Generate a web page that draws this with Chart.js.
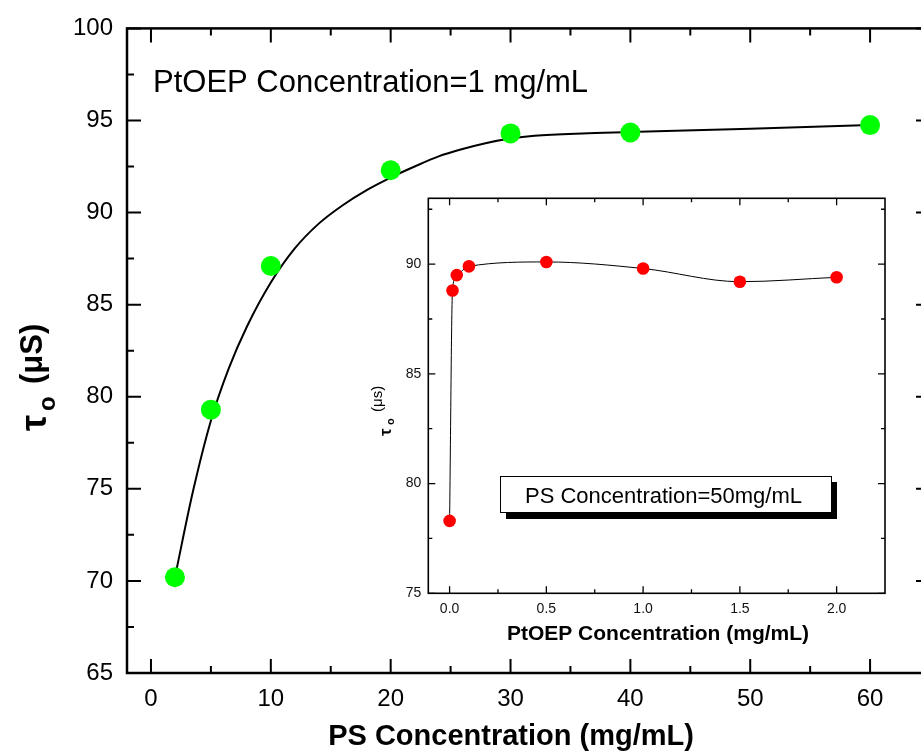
<!DOCTYPE html>
<html>
<head>
<meta charset="utf-8">
<title>Lifetime vs concentration</title>
<script src="https://cdn.jsdelivr.net/npm/chart.js@4"></script>
<style>
  html, body { margin: 0; padding: 0; background: #fff; overflow: hidden; }
  #wrap { position: relative; width: 921px; height: 752px; overflow: hidden; }
  #main { position: absolute; left: 0; top: 0; }
  #inset { position: absolute; left: 360px; top: 180px; }
</style>
</head>
<body>
<div id="wrap">
  <canvas id="main" width="940" height="752"></canvas>
  <canvas id="inset" width="540" height="480"></canvas>
</div>
<script>
// main plot: lifetime vs PS concentration (PtOEP fixed at 1 mg/mL)
const psConc = [2, 5, 10, 20, 30, 40, 60];
const tauPS = [70.2, 79.3, 87.1, 92.3, 94.3, 94.35, 94.75];

// fitted curve, sampled
const fitX = [2, 3.5, 5, 6.5, 8, 10, 12, 14, 16, 18, 20, 22, 24, 26, 28, 30, 32, 36, 40, 50, 60];
const fitY = [70.2, 74.85, 78.7, 81.55, 83.8, 86.2, 88.05, 89.4, 90.4, 91.22, 91.9, 92.5, 93.05, 93.45, 93.78, 94.02, 94.17, 94.3, 94.37, 94.55, 94.75];

const mainXTicks = [0, 10, 20, 30, 40, 50, 60];
const mainXMinor = [5, 15, 25, 35, 45, 55];
const mainYTicks = [65, 70, 75, 80, 85, 90, 95, 100];
const mainYMinor = [67.5, 72.5, 77.5, 82.5, 87.5, 92.5, 97.5];

// inset: lifetime vs PtOEP concentration (PS fixed at 50 mg/mL)
const ptoepConc = [0, 0.015, 0.037, 0.1, 0.5, 1.0, 1.5, 2.0];
const tauPt = [78.3, 88.8, 89.5, 89.9, 90.1, 89.8, 89.2, 89.4];

const insetXTicks = [0, 0.5, 1.0, 1.5, 2.0];
const insetXMinor = [0.25, 0.75, 1.25, 1.75];
const insetYTicks = [75, 80, 85, 90];
const insetYMinor = [77.5, 82.5, 87.5, 92.5];

const FONT = '"Liberation Sans", Arial, sans-serif';
Chart.defaults.font.family = FONT;
Chart.defaults.color = '#000';

const toPts = (xs, ys) => xs.map((x, i) => ({ x: x, y: ys[i] }));
const setTicks = vals => scale => { scale.ticks = vals.map(v => ({ value: v })); };

// box around the plot with ticks pointing inward on all four sides
const framePlugin = {
  id: 'frame',
  afterDraw(chart, args, o) {
    const { ctx, chartArea: a, scales: { x, y } } = chart;
    ctx.save();
    ctx.strokeStyle = '#000';
    ctx.lineWidth = o.tickWidth;
    ctx.beginPath();
    const xt = (vals, len) => vals.forEach(v => {
      const px = x.getPixelForValue(v);
      ctx.moveTo(px, a.bottom); ctx.lineTo(px, a.bottom - len);
      ctx.moveTo(px, a.top); ctx.lineTo(px, a.top + len);
    });
    const yt = (vals, len) => vals.forEach(v => {
      const py = y.getPixelForValue(v);
      ctx.moveTo(a.left, py); ctx.lineTo(a.left + len, py);
      ctx.moveTo(a.right, py); ctx.lineTo(a.right - len, py);
    });
    xt(o.xMajor, o.major); xt(o.xMinor, o.minor);
    yt(o.yMajor, o.major); yt(o.yMinor, o.minor);
    ctx.stroke();
    ctx.lineWidth = o.lineWidth;
    ctx.strokeRect(a.left, a.top, a.right - a.left, a.bottom - a.top);
    ctx.restore();
  }
};

// rotated "τo (unit)" with the o as subscript
function drawTauTitle(ctx, startY, p) {
  ctx.save();
  ctx.translate(0, startY);
  ctx.rotate(-Math.PI / 2);
  ctx.fillStyle = '#000';
  ctx.textAlign = 'left';
  ctx.textBaseline = 'alphabetic';
  ctx.font = p.tauFont;
  ctx.fillText('τ', 0, p.tauBase);
  ctx.font = p.subFont;
  ctx.fillText('o', p.subX, p.subBase);
  ctx.font = p.unitFont;
  ctx.fillText(p.unit, p.unitX, p.unitBase);
  ctx.restore();
}

const mainText = {
  id: 'mainText',
  afterDraw(chart) {
    const ctx = chart.ctx;
    ctx.save();
    ctx.fillStyle = '#000';
    ctx.textBaseline = 'alphabetic';
    ctx.textAlign = 'left';
    ctx.font = '31px ' + FONT;
    ctx.fillText('PtOEP Concentration=1 mg/mL', 153, 92);
    ctx.textAlign = 'center';
    ctx.textBaseline = 'middle';
    ctx.font = 'bold 29px ' + FONT;
    ctx.fillText('PS Concentration (mg/mL)', 511, 737);
    ctx.restore();
    drawTauTitle(ctx, 431, {
      tauFont: 'bold 36px ' + FONT, tauBase: 46,
      subFont: 'bold 24px ' + FONT, subX: 20, subBase: 55,
      unitFont: 'bold 31px ' + FONT, unitX: 47, unitBase: 42,
      unit: '(μS)'
    });
  }
};

const insetText = {
  id: 'insetText',
  afterDraw(chart) {
    const ctx = chart.ctx;
    const ox = 360, oy = 180; // canvas offset on the page
    ctx.save();
    // label box with drop shadow
    ctx.fillStyle = '#000';
    ctx.fillRect(506 - ox, 482 - oy, 331, 37);
    ctx.fillStyle = '#fff';
    ctx.fillRect(500 - ox, 476 - oy, 331, 36);
    ctx.strokeStyle = '#000';
    ctx.lineWidth = 1;
    ctx.strokeRect(500.5 - ox, 476.5 - oy, 331, 36);
    ctx.fillStyle = '#000';
    ctx.textAlign = 'left';
    ctx.textBaseline = 'alphabetic';
    ctx.font = '22px ' + FONT;
    ctx.fillText('PS Concentration=50mg/mL', 525 - ox, 503 - oy);
    ctx.textAlign = 'center';
    ctx.textBaseline = 'middle';
    ctx.font = 'bold 21px ' + FONT;
    ctx.fillText('PtOEP Concentration (mg/mL)', 658 - ox, 634 - oy);
    ctx.restore();
    drawTauTitle(ctx, 436 - oy, {
      tauFont: 'bold 17px ' + FONT, tauBase: 391 - ox,
      subFont: 'bold 11px ' + FONT, subX: 11, subBase: 394 - ox,
      unitFont: '15px ' + FONT, unitX: 24, unitBase: 382 - ox,
      unit: '(μs)'
    });
  }
};

new Chart(document.getElementById('main'), {
  type: 'scatter',
  data: {
    datasets: [
      {
        data: toPts(psConc, tauPS),
        backgroundColor: '#00ff00',
        borderWidth: 0,
        pointRadius: 10,
        order: 0
      },
      {
        data: toPts(fitX, fitY),
        showLine: true,
        cubicInterpolationMode: 'monotone',
        borderColor: '#000',
        borderWidth: 2,
        pointRadius: 0,
        order: 1
      }
    ]
  },
  options: {
    responsive: false,
    animation: false,
    layout: { padding: { top: 25, right: 8, bottom: 0, left: 0 } },
    plugins: {
      legend: { display: false },
      tooltip: { enabled: false },
      frame: {
        lineWidth: 2.5, tickWidth: 2, major: 14, minor: 7,
        xMajor: mainXTicks, xMinor: mainXMinor,
        yMajor: mainYTicks, yMinor: mainYMinor
      }
    },
    scales: {
      x: {
        type: 'linear', min: -2, max: 65,
        grid: { display: false, drawTicks: false },
        border: { display: false },
        afterBuildTicks: setTicks(mainXTicks),
        afterFit: s => { s.height = 79; },
        ticks: { font: { size: 24 }, padding: 12 }
      },
      y: {
        type: 'linear', min: 65, max: 100,
        grid: { display: false, drawTicks: false },
        border: { display: false },
        afterBuildTicks: setTicks(mainYTicks),
        afterFit: s => { s.width = 127; },
        ticks: { font: { size: 24 }, padding: 14 }
      }
    }
  },
  plugins: [framePlugin, mainText]
});

new Chart(document.getElementById('inset'), {
  type: 'scatter',
  data: {
    datasets: [
      {
        data: toPts(ptoepConc, tauPt),
        backgroundColor: '#ff0000',
        borderWidth: 0,
        pointRadius: 6.3,
        order: 0
      },
      {
        data: toPts(ptoepConc, tauPt),
        showLine: true,
        cubicInterpolationMode: 'monotone',
        borderColor: '#000',
        borderWidth: 1,
        pointRadius: 0,
        order: 1
      }
    ]
  },
  options: {
    responsive: false,
    animation: false,
    layout: { padding: { top: 18.3, right: 15, bottom: 0, left: 0 } },
    plugins: {
      legend: { display: false },
      tooltip: { enabled: false },
      frame: {
        lineWidth: 1.6, tickWidth: 1.3, major: 7, minor: 4,
        xMajor: insetXTicks, xMinor: insetXMinor,
        yMajor: insetYTicks, yMinor: insetYMinor
      }
    },
    scales: {
      x: {
        type: 'linear', min: -0.11, max: 2.25,
        grid: { display: false, drawTicks: false },
        border: { display: false },
        afterBuildTicks: setTicks(insetXTicks),
        afterFit: s => { s.height = 66.7; },
        ticks: { font: { size: 14 }, padding: 7, color: '#111', callback: v => v.toFixed(1) }
      },
      y: {
        type: 'linear', min: 75, max: 93,
        grid: { display: false, drawTicks: false },
        border: { display: false },
        afterBuildTicks: setTicks(insetYTicks),
        afterFit: s => { s.width = 68.3; },
        ticks: { font: { size: 14 }, padding: 7, color: '#111' }
      }
    }
  },
  plugins: [framePlugin, insetText]
});
</script>
</body>
</html>
